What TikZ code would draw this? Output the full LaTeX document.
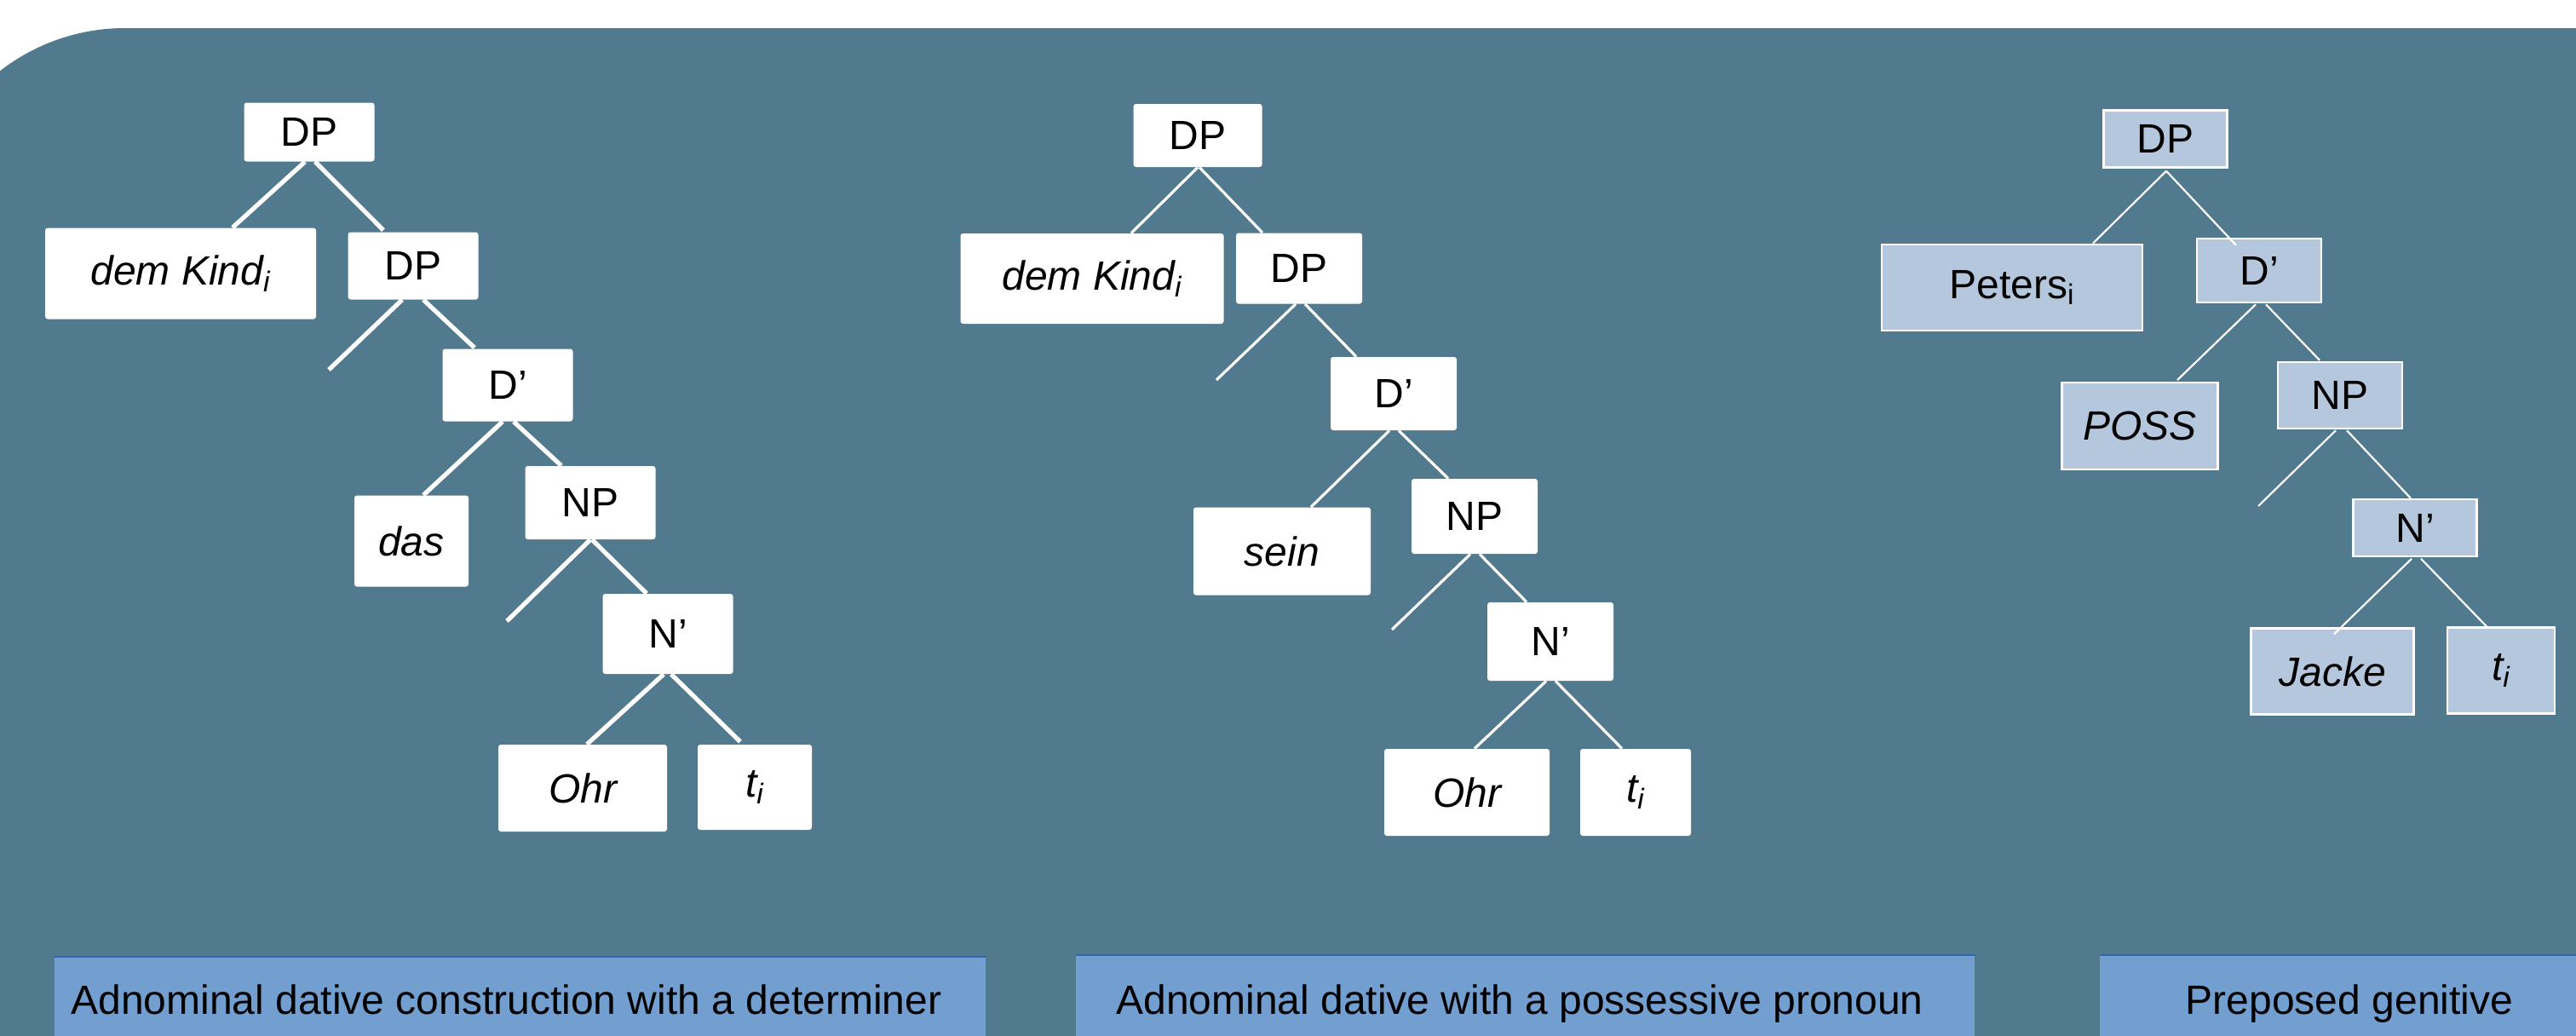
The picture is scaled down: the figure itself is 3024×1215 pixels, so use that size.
\documentclass[tikz,border=0pt]{standalone}
\usepackage{fontspec}
\setmainfont{Liberation Sans}
\usetikzlibrary{calc}
\definecolor{bgblue}{RGB}{81,122,142}
\definecolor{lightbox}{RGB}{181,199,221}
\definecolor{capfill}{RGB}{114,159,207}
\definecolor{capedge}{RGB}{52,101,164}
\newcommand{\nodefont}{\fontsize{24}{28}\selectfont}
\newcommand{\subi}{\textsubscript{i}}
\tikzset{
  wbox/.style={fill=white, rounded corners=1.5pt, inner sep=0pt, font=\nodefont, text=black},
  gbox/.style={fill=lightbox, draw=white, line width=1.2pt, inner sep=0pt, font=\nodefont, text=black},
  thickline/.style={draw=white, line width=2.6pt},
  medline/.style={draw=white, line width=1.6pt},
  thinline/.style={draw=white, line width=1.1pt},
  capbox/.style={fill=capfill, inner sep=0pt, anchor=north west},
  capline/.style={draw=capedge, line width=1pt},
  captext/.style={font=\nodefont, text=black, inner sep=0pt}
}
\begin{document}
\begin{tikzpicture}[x=0.5pt,y=-0.5pt]
\useasboundingbox (0,0) rectangle (3024,1215);
\clip (0,0) rectangle (3024,1215);
\fill[white] (0,0) rectangle (3024,1215);
\fill[bgblue, rounded corners=120pt] (-93,33) rectangle (3400,1500);

% ---------- Tree 1 ----------
\node[wbox, minimum width=76.5pt, minimum height=34.5pt] (dpa) at (363,155) {DP};
\node[wbox, minimum width=159pt, minimum height=53.5pt] (kinda) at (212,321) {\itshape dem Kind\subi};
\node[wbox, minimum width=76.5pt, minimum height=39.5pt] (dpb) at (485,312) {DP};
\node[wbox, minimum width=76.5pt, minimum height=42.5pt] (dba) at (596,452) {D’};
\node[wbox, minimum width=67pt, minimum height=53.5pt] (das) at (483,635) {\itshape das};
\node[wbox, minimum width=76.5pt, minimum height=43pt] (npa) at (693,590) {NP};
\node[wbox, minimum width=76.5pt, minimum height=47pt] (nba) at (784,744) {N’};
\node[wbox, minimum width=99pt, minimum height=51pt] (ohra) at (684,925) {\itshape Ohr};
\node[wbox, minimum width=67pt, minimum height=50pt] (ta) at (886,924) {\itshape t\subi};
\coordinate (ea) at (386,434);
\coordinate (eb) at (595,729);
\draw[thickline] ($(dpa.south)+(-5,0)$) -- ($(kinda.north)+(61,0)$);
\draw[thickline] ($(dpa.south)+(7,0)$) -- ($(dpb.north)+(-35,-2)$);
\draw[thickline] ($(dpb.south)+(-13,0)$) -- (ea);
\draw[thickline] ($(dpb.south)+(12,0)$) -- ($(dba.north)+(-39,-1)$);
\draw[thickline] ($(dba.south)+(-6,0)$) -- ($(das.north)+(14,0)$);
\draw[thickline] ($(dba.south)+(7,0)$) -- ($(npa.north)+(-34,0)$);
\draw[thickline] (npa.south) -- (eb);
\draw[thickline] ($(npa.south)+(2,0)$) -- ($(nba.north)+(-25,0)$);
\draw[thickline] ($(nba.south)+(-5,0)$) -- ($(ohra.north)+(5,0)$);
\draw[thickline] ($(nba.south)+(4,0)$) -- ($(ta.north)+(-17,-3)$);

% ---------- Tree 2 ----------
\node[wbox, minimum width=75.5pt, minimum height=37pt] (dpc) at (1406,159) {DP};
\node[wbox, minimum width=154.5pt, minimum height=53pt] (kindb) at (1282,327) {\itshape dem Kind\subi};
\node[wbox, minimum width=74pt, minimum height=41.5pt] (dpd) at (1525,315) {DP};
\node[wbox, minimum width=74pt, minimum height=43pt] (dbb) at (1636,462) {D’};
\node[wbox, minimum width=104pt, minimum height=51.5pt] (sein) at (1505,647) {\itshape sein};
\node[wbox, minimum width=74pt, minimum height=44pt] (npb) at (1731,606) {NP};
\node[wbox, minimum width=74pt, minimum height=46pt] (nbb) at (1820,753) {N’};
\node[wbox, minimum width=97pt, minimum height=51pt] (ohrb) at (1722,930) {\itshape Ohr};
\node[wbox, minimum width=65pt, minimum height=51pt] (tb) at (1920,930) {\itshape t\subi};
\coordinate (ec) at (1428,446);
\coordinate (ed) at (1634,739);
\draw[medline] (dpc.south) -- ($(kindb.north)+(46,0)$);
\draw[medline] ($(dpc.south)+(2,0)$) -- ($(dpd.north)+(-43,0)$);
\draw[medline] ($(dpd.south)+(-4,0)$) -- (ec);
\draw[medline] ($(dpd.south)+(7,0)$) -- ($(dbb.north)+(-44,0)$);
\draw[medline] ($(dbb.south)+(-5,0)$) -- ($(sein.north)+(34,0)$);
\draw[medline] ($(dbb.south)+(6,0)$) -- ($(npb.north)+(-31,0)$);
\draw[medline] ($(npb.south)+(-5,0)$) -- (ed);
\draw[medline] ($(npb.south)+(6,0)$) -- ($(nbb.north)+(-28,0)$);
\draw[medline] ($(nbb.south)+(-5,0)$) -- ($(ohrb.north)+(9,0)$);
\draw[medline] ($(nbb.south)+(6,0)$) -- ($(tb.north)+(-16,0)$);

% ---------- Tree 3 ----------
\node[gbox, minimum width=72.5pt, minimum height=33.5pt] (dpe) at (2542,163) {DP};
\node[gbox, minimum width=153pt, minimum height=50.75pt] (peters) at (2362,337.5) {Peters\subi};
\node[gbox, minimum width=73pt, minimum height=37.5pt] (dbc) at (2652,317.6) {D’};
\node[gbox, minimum width=91.5pt, minimum height=50.75pt] (poss) at (2512,500) {\itshape POSS};
\node[gbox, minimum width=73pt, minimum height=39pt] (npc) at (2747,464) {NP};
\node[gbox, minimum width=72.5pt, minimum height=33.5pt] (nbc) at (2835,619.6) {N’};
\node[gbox, minimum width=95.5pt, minimum height=50.5pt] (jacke) at (2738,788) {\itshape Jacke};
\node[gbox, minimum width=63pt, minimum height=50.5pt] (tc) at (2936,787) {\itshape t\subi};
\coordinate (ee) at (2651,594);
\draw[thinline] ($(dpe.south)+(1,3)$) -- ($(peters.north)+(95,0)$);
\draw[thinline] ($(dpe.south)+(1,3)$) -- ($(dbc.north)+(-27,9)$);
\draw[thinline] ($(dbc.south)+(-4,1)$) -- ($(poss.north)+(44,-2)$);
\draw[thinline] ($(dbc.south)+(8,1)$) -- ($(npc.north)+(-24,-1)$);
\draw[thinline] ($(npc.south)+(-5,1)$) -- (ee);
\draw[thinline] ($(npc.south)+(8,1)$) -- ($(nbc.north)+(-5,0)$);
\draw[thinline] ($(nbc.south)+(-4,1.5)$) -- ($(jacke.north)+(2,8)$);
\draw[thinline] ($(nbc.south)+(7,1.5)$) -- ($(tc.north)+(-17,0)$);

% ---------- Captions ----------
\node[capbox, minimum width=546.5pt, minimum height=60pt] (capa) at (64,1123) {};
\node[capbox, minimum width=527.5pt, minimum height=60pt] (capb) at (1263,1121) {};
\node[capbox, minimum width=400pt, minimum height=60pt] (capc) at (2465,1121) {};
\draw[capline] (capa.north west) -- (capa.north east);
\draw[capline] (capb.north west) -- (capb.north east);
\draw[capline] (capc.north west) -- (capc.north east);
\node[captext, anchor=base west] (capat) at (83,1190) {Adnominal dative construction with a determiner};
\node[captext, anchor=base] (capbt) at (1784,1190) {Adnominal dative with a possessive pronoun};
\node[captext, anchor=base] (capct) at (2758,1190) {Preposed genitive};
\end{tikzpicture}
\end{document}
